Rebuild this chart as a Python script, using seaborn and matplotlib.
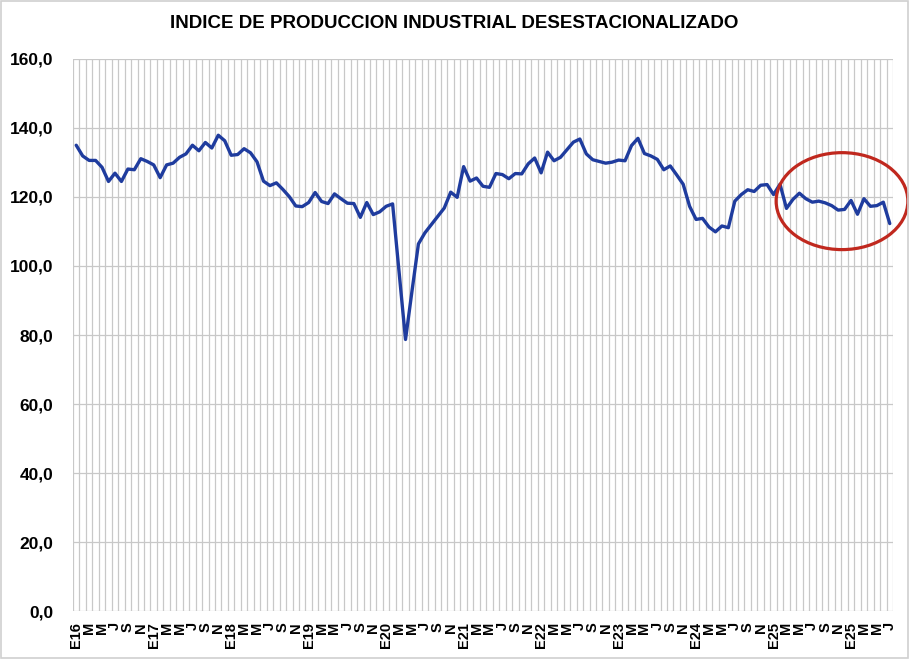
import numpy as np
import pandas as pd
import matplotlib
matplotlib.use('Agg')
import matplotlib.pyplot as plt
import seaborn as sns
from matplotlib.patches import Ellipse, Rectangle

# indice mensual, desde enero 2016
ipi = [135.0, 131.9, 130.6, 130.6, 128.6, 124.5, 126.9, 124.5, 128.1, 127.9, 131.1, 130.3,
       129.3, 125.6, 129.3, 129.8, 131.5, 132.5, 135.0, 133.4, 135.8, 134.2, 137.9, 136.3,
       132.1, 132.3, 134.0, 132.8, 130.2, 124.6, 123.3, 124.1, 122.2, 120.1, 117.4, 117.2,
       118.4, 121.3, 118.7, 118.1, 120.9, 119.5, 118.2, 118.1, 114.1, 118.4, 114.9, 115.7,
       117.3, 118.0, 98.3, 78.7, 92.7, 106.4, 109.6, 112.0, 114.4, 116.8, 121.4, 119.9,
       128.8, 124.6, 125.5, 123.1, 122.8, 126.8, 126.5, 125.3, 126.8, 126.7, 129.6, 131.3,
       127.0, 133.0, 130.5, 131.5, 133.7, 135.9, 136.8, 132.5, 130.8, 130.3, 129.8, 130.1,
       130.7, 130.5, 134.9, 137.0, 132.6, 131.9, 130.9, 127.9, 129.0, 126.4, 123.7, 117.3,
       113.5, 113.8, 111.3, 109.9, 111.6, 111.1, 118.8, 120.7, 122.1, 121.6, 123.4, 123.6,
       120.7, 123.7, 116.7, 119.3, 121.1, 119.5, 118.5, 118.8, 118.3, 117.5, 116.2, 116.4,
       119.0, 115.0, 119.5, 117.3, 117.5, 118.5, 112.3]

year_labels = ['E16', 'E17', 'E18', 'E19', 'E20', 'E21', 'E22', 'E23', 'E24', 'E25', 'E25']
month_marks = ['M', 'M', 'J', 'S', 'N']

tick_labels = []
for y in year_labels:
    tick_labels += [y] + month_marks
tick_labels = tick_labels[:(len(ipi) + 1) // 2]

df = pd.DataFrame({"mes": np.arange(len(ipi)), "ipi": ipi})

sns.set_style("white")
plt.rcParams['font.family'] = ['Liberation Sans', 'DejaVu Sans']
plt.rcParams['text.color'] = 'black'
plt.rcParams['xtick.color'] = 'black'
plt.rcParams['ytick.color'] = 'black'

fig = plt.figure(figsize=(9.09, 6.59), dpi=100)
ax = fig.add_axes([0.0803, 0.0728, 0.9021, 0.8377])

sns.lineplot(data=df, x="mes", y="ipi", ax=ax, color="#1F3C9E", linewidth=2.4, zorder=3)

ax.set_xlim(-0.5, len(ipi) - 0.5)
ax.set_ylim(0, 160)

# rejilla vertical por mes, horizontal cada 20
for k in range(len(ipi) + 1):
    ax.axvline(k - 0.5, color="#C8C8C8", linewidth=0.9, zorder=1)
for v in range(0, 161, 20):
    ax.axhline(v, color="#C8C8C8", linewidth=0.9, zorder=1)

ax.set_yticks(range(0, 161, 20))
ax.set_yticklabels([f"{v},0" for v in range(0, 161, 20)], fontsize=12.5, fontweight="bold")
ax.set_xticks(np.arange(0, len(ipi), 2))
ax.set_xticklabels(tick_labels, rotation=90, fontsize=10.5, fontweight="bold")
ax.tick_params(axis="y", length=0, pad=14)
ax.tick_params(axis="x", length=0, pad=8)
ax.set_xlabel("")
ax.set_ylabel("")
for s in ax.spines.values():
    s.set_visible(False)

ax.add_patch(Ellipse((118.6, 118.8), 20.4, 28.1, fill=False, edgecolor="#C0281E",
                     linewidth=2.3, clip_on=False, zorder=4))

fig.text(0.5, 0.964, "INDICE DE PRODUCCION INDUSTRIAL DESESTACIONALIZADO",
         ha="center", va="center", fontsize=13.5, fontweight="bold")

fig.patches.append(Rectangle((0.001, 0.001), 0.998, 0.998, transform=fig.transFigure,
                             fill=False, edgecolor="#D0D0D0", linewidth=1.2))

fig.savefig("out.png", dpi=100)
